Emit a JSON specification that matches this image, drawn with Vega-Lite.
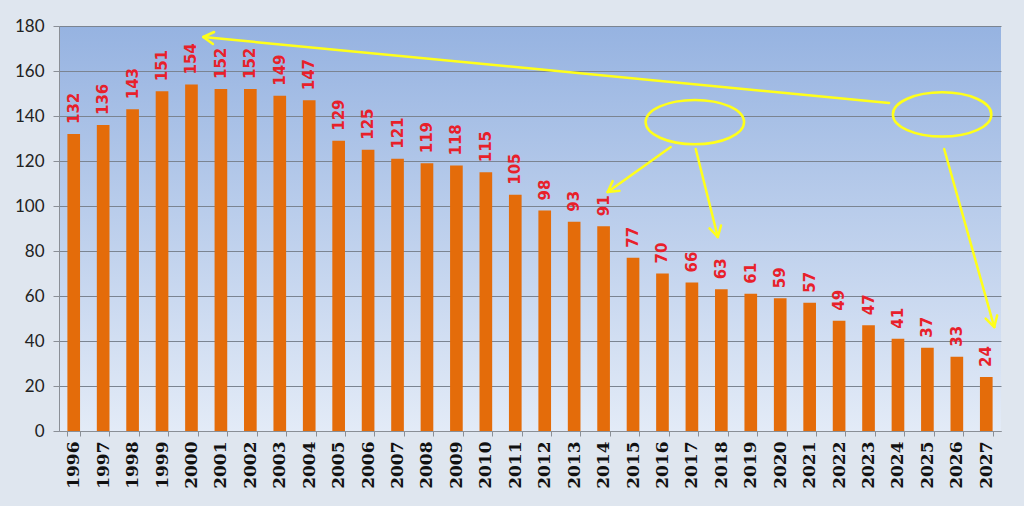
{
  "$schema": "https://vega.github.io/schema/vega-lite/v6.json",
  "width": 942,
  "height": 405,
  "autosize": {"type": "none"},
  "padding": {"left": 59, "top": 26, "right": 23, "bottom": 75},
  "background": "#dfe6ef",
  "config": {
    "view": {
      "stroke": null,
      "fill": {"gradient": "linear", "x1": 0, "y1": 0, "x2": 0, "y2": 1,
        "stops": [{"offset": 0, "color": "#96b3e1"}, {"offset": 1, "color": "#e3ebf7"}]}
    }
  },
  "datasets": {
    "bars": [
      {"year": "1996", "value": 132}, {"year": "1997", "value": 136}, {"year": "1998", "value": 143},
      {"year": "1999", "value": 151}, {"year": "2000", "value": 154}, {"year": "2001", "value": 152},
      {"year": "2002", "value": 152}, {"year": "2003", "value": 149}, {"year": "2004", "value": 147},
      {"year": "2005", "value": 129}, {"year": "2006", "value": 125}, {"year": "2007", "value": 121},
      {"year": "2008", "value": 119}, {"year": "2009", "value": 118}, {"year": "2010", "value": 115},
      {"year": "2011", "value": 105}, {"year": "2012", "value": 98}, {"year": "2013", "value": 93},
      {"year": "2014", "value": 91}, {"year": "2015", "value": 77}, {"year": "2016", "value": 70},
      {"year": "2017", "value": 66}, {"year": "2018", "value": 63}, {"year": "2019", "value": 61},
      {"year": "2020", "value": 59}, {"year": "2021", "value": 57}, {"year": "2022", "value": 49},
      {"year": "2023", "value": 47}, {"year": "2024", "value": 41}, {"year": "2025", "value": 37},
      {"year": "2026", "value": 33}, {"year": "2027", "value": 24}
    ],
    "segments": [
      {"x": 2023.70, "y": 145.78, "x2": 2000.40, "y2": 175.11},
      {"x": 2000.40, "y": 175.11, "x2": 2000.73, "y2": 172.0},
      {"x": 2000.40, "y": 175.11, "x2": 2000.77, "y2": 177.33},
      {"x": 2016.28, "y": 126.22, "x2": 2014.14, "y2": 106.22},
      {"x": 2014.14, "y": 106.22, "x2": 2014.54, "y2": 106.73},
      {"x": 2014.14, "y": 106.22, "x2": 2014.31, "y2": 111.07},
      {"x": 2017.13, "y": 125.33, "x2": 2017.88, "y2": 86.22},
      {"x": 2017.88, "y": 86.22, "x2": 2017.99, "y2": 91.33},
      {"x": 2017.88, "y": 86.22, "x2": 2017.60, "y2": 90.04},
      {"x": 2025.57, "y": 125.33, "x2": 2027.27, "y2": 46.22},
      {"x": 2027.27, "y": 46.22, "x2": 2027.37, "y2": 51.38},
      {"x": 2027.27, "y": 46.22, "x2": 2026.98, "y2": 49.96}
    ],
    "ellipses": [
      {"x": 2017.1, "y": 137.3},
      {"x": 2025.5, "y": 140.7}
    ]
  },
  "layer": [
    {
      "data": {"name": "bars"},
      "encoding": {
        "x": {
          "field": "year", "type": "ordinal",
          "scale": {"paddingInner": 0.57, "paddingOuter": 0.285},
          "axis": {
            "title": null, "labelAngle": -90, "labelFont": "DejaVu Serif", "labelFontWeight": "bold",
            "labelFontSize": 17, "labelColor": "#111111", "labelPadding": 5,
            "tickBand": "extent", "tickSize": 5, "tickColor": "#8a8f96", "domainColor": "#8a8f96",
            "grid": false
          }
        },
        "y": {
          "field": "value", "type": "quantitative",
          "scale": {"domain": [0, 180], "nice": false},
          "axis": {
            "title": null, "values": [0, 20, 40, 60, 80, 100, 120, 140, 160, 180],
            "labelFont": "Lato", "labelFontSize": 17, "labelColor": "#222222", "labelPadding": 9,
            "tickSize": 6, "tickColor": "#8a8f96", "domainColor": "#8a8f96",
            "grid": true, "gridColor": "#7b8491", "gridOpacity": 1, "gridWidth": 1
          }
        }
      },
      "layer": [
        {"mark": {"type": "bar", "color": "#e46c0a"}},
        {
          "mark": {"type": "text", "angle": 270, "align": "left", "baseline": "middle", "dx": 10,
            "font": "DejaVu Sans", "fontWeight": "bold", "fontSize": 15, "color": "#e8202a"},
          "encoding": {"text": {"field": "value", "type": "quantitative"}}
        }
      ]
    },
    {
      "layer": [
        {
          "data": {"name": "segments"},
          "mark": {"type": "rule", "color": "#ffff1a", "strokeWidth": 2.5, "strokeCap": "round"},
          "encoding": {
            "x": {"field": "x", "type": "quantitative", "scale": {"domain": [1995.5, 2027.5], "nice": false, "zero": false}, "axis": null},
            "x2": {"field": "x2"},
            "y": {"field": "y", "type": "quantitative"},
            "y2": {"field": "y2"}
          }
        },
        {
          "data": {"name": "ellipses"},
          "mark": {"type": "point", "shape": "M -1 0 A 1 0.45 0 1 0 1 0 A 1 0.45 0 1 0 -1 0 Z",
            "size": 9700, "filled": false, "stroke": "#ffff1a", "strokeWidth": 2.5, "opacity": 1},
          "encoding": {
            "x": {"field": "x", "type": "quantitative"},
            "y": {"field": "y", "type": "quantitative"}
          }
        }
      ]
    }
  ],
  "resolve": {"scale": {"x": "independent"}, "axis": {"x": "independent"}}
}
